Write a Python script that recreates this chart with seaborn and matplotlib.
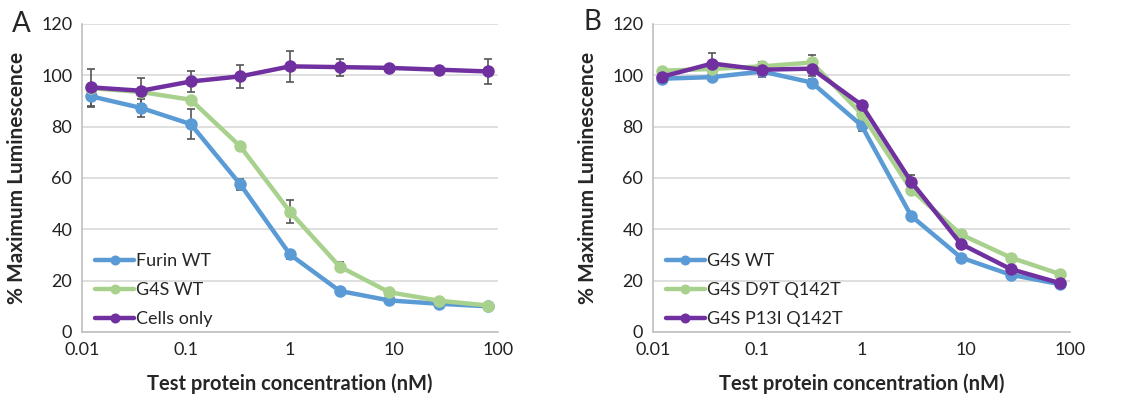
import matplotlib
matplotlib.use('Agg')
import matplotlib.pyplot as plt
import seaborn as sns
import pandas as pd
import numpy as np

# 3-fold dilution series (nM)
conc = [0.0123, 0.037, 0.111, 0.333, 1, 3, 9, 27, 81]

# Panel A
a_names = ['Furin WT', 'G4S WT', 'Cells only']
a_furin = [91.8, 87.3, 81.0, 57.5, 30.2, 16.0, 12.3, 11.0, 10.0]
a_g4s = [95.0, 93.5, 90.5, 72.3, 46.8, 25.5, 15.5, 12.2, 10.3]
a_cells = [95.3, 94.0, 97.6, 99.6, 103.5, 103.2, 102.9, 102.2, 101.5]
a_furin_err = [4.0, 3.5, 6.0, 2.0, 1.8, 0.8, 0.5, 0.5, 0.5]
a_g4s_err = [1.0, 1.0, 0.5, 0.5, 4.5, 1.8, 0.8, 0.5, 0.5]
a_cells_err = [7.2, 5.0, 4.2, 4.5, 6.0, 3.3, 0.5, 0.5, 5.0]

# Panel B
b_names = ['G4S WT', 'G4S D9T Q142T', 'G4S P13I Q142T']
b_wt = [98.7, 99.3, 101.5, 97.2, 80.5, 45.2, 29.0, 22.3, 18.6]
b_d9t = [101.8, 102.5, 103.5, 105.0, 85.0, 55.5, 38.0, 29.0, 22.5]
b_p13i = [99.5, 104.6, 102.2, 102.6, 88.5, 58.5, 34.3, 24.5, 19.0]
b_wt_err = [1.0, 1.0, 1.5, 1.5, 2.0, 1.0, 1.0, 0.8, 0.8]
b_d9t_err = [1.0, 1.5, 1.5, 3.0, 1.0, 1.5, 1.0, 0.8, 0.8]
b_p13i_err = [1.5, 4.0, 3.0, 2.8, 1.0, 2.8, 1.0, 0.8, 0.8]

colors = ['#5B9BD5', '#A9D18E', '#7030A0']

sns.set_theme(style='white')
plt.rcParams['font.family'] = ['Lato', 'DejaVu Sans']

fig = plt.figure(figsize=(11.28, 3.98), dpi=100)
ax_a = fig.add_axes([82 / 1128, 1 - 332 / 398, 416 / 1128, 308 / 398])
ax_b = fig.add_axes([653 / 1128, 1 - 332 / 398, 417 / 1128, 308 / 398])


def draw_panel(ax, names, series, errs):
    df = pd.DataFrame({
        'conc': conc * len(names),
        'value': [v for s in series for v in s],
        'sample': [n for n in names for _ in conc],
    })
    for s, e in zip(series, errs):
        ax.errorbar(conc, s, yerr=e, fmt='none', ecolor='#555555',
                    elinewidth=1.2, capsize=3, capthick=1.2, zorder=2)
    sns.lineplot(data=df, x='conc', y='value', hue='sample', hue_order=names,
                 palette=colors, marker='o', markersize=9, markeredgewidth=0,
                 linewidth=3.2, ax=ax, legend=True, zorder=3)
    ax.set_xscale('log')
    ax.set_xlim(0.01, 100)
    ax.set_ylim(0, 120)
    ax.set_yticks(range(0, 121, 20))
    ax.set_xticks([0.01, 0.1, 1, 10, 100])
    ax.set_xticklabels(['0.01', '0.1', '1', '10', '100'])
    ax.minorticks_off()
    ax.yaxis.grid(True, color='#d9d9d9', linewidth=1.2)
    ax.xaxis.grid(False)
    ax.set_axisbelow(True)
    for side in ['top', 'right']:
        ax.spines[side].set_visible(False)
    for side in ['left', 'bottom']:
        ax.spines[side].set_color('#bfbfbf')
        ax.spines[side].set_linewidth(1.2)
    ax.tick_params(axis='both', labelsize=13, length=0, pad=7, colors='#222222')
    ax.set_xlabel('Test protein concentration (nM)', fontsize=14.5, fontweight='bold',
                  labelpad=11)
    ax.set_ylabel('% Maximum Luminescence', fontsize=15, fontweight='bold', labelpad=10)
    ax.legend(loc='lower left', bbox_to_anchor=(0.0, -0.025), frameon=False,
              fontsize=13, handlelength=2.2, handletextpad=0.1, markerscale=0.8,
              labelspacing=0.72, borderaxespad=0.3)


draw_panel(ax_a, a_names, [a_furin, a_g4s, a_cells],
           [a_furin_err, a_g4s_err, a_cells_err])
draw_panel(ax_b, b_names, [b_wt, b_d9t, b_p13i],
           [b_wt_err, b_d9t_err, b_p13i_err])

fig.text(12 / 1128, 1 - 24 / 398, 'A', fontsize=20, va='center', ha='left')
fig.text(583 / 1128, 1 - 22 / 398, 'B', fontsize=20, va='center', ha='left')

fig.savefig('out.png', dpi=100)
